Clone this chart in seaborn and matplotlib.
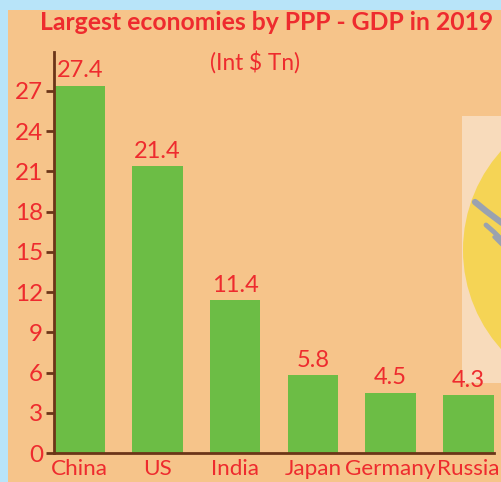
import matplotlib
matplotlib.use("Agg")
import matplotlib.pyplot as plt
from matplotlib.patches import Rectangle, Ellipse
from matplotlib.lines import Line2D
import seaborn as sns
import pandas as pd

countries = ["China", "US", "India", "Japan", "Germany", "Russia"]
gdp_ppp = [27.4, 21.4, 11.4, 5.8, 4.5, 4.3]
y_ticks = [0, 3, 6, 9, 12, 15, 18, 21, 24, 27]

RED = "#ee2b2e"
GREEN = "#6cbd45"
BROWN = "#6b3518"
PEACH = "#f6c48a"
SKY = "#b8e4f9"

sns.set_theme(style="white")
plt.rcParams["font.family"] = ["Lato", "DejaVu Sans"]

df = pd.DataFrame({"country": countries, "gdp": gdp_ppp})

fig = plt.figure(figsize=(5.02, 4.82), dpi=100, facecolor=SKY)
W, H = 502, 482

def fx(px):
    return px / W

def fy(py):
    return 1 - py / H

# peach panel
fig.patches.append(Rectangle((fx(8), 0), 1 - fx(8), fy(10), transform=fig.transFigure,
                             facecolor=PEACH, edgecolor="none", zorder=0))
# pale picture panel with a sun-like emblem on the right
frame = Rectangle((fx(462), fy(383)), fx(502) - fx(462), fy(116) - fy(383),
                  transform=fig.transFigure, facecolor="#f8dbbb",
                  edgecolor="none", zorder=0.5)
fig.patches.append(frame)
emblem = Ellipse((fx(611), fy(250)), fx(296), 296 / H, transform=fig.transFigure,
                 facecolor="#f5d455", edgecolor="none", zorder=0.6)
emblem.set_clip_path(frame)
fig.patches.append(emblem)
feathers = [
    ([475, 486, 502], [202, 211, 223], 4.5),
    ([486, 494, 502], [225, 232, 240], 3.5),
    ([494, 498, 502], [237, 241, 245], 2.5),
]
for xs, ys, lw in feathers:
    fig.lines.append(Line2D([fx(v) for v in xs], [fy(v) for v in ys],
                            transform=fig.transFigure, color="#9aa2b0",
                            lw=lw, solid_capstyle="round", zorder=0.7))

ax = fig.add_axes([fx(54), fy(453), fx(494) - fx(54), fy(52) - fy(453)])
ax.set_facecolor("none")
ax.set_zorder(5)

sns.barplot(data=df, x="country", y="gdp", color=GREEN, width=0.65,
            saturation=1, linewidth=0, ax=ax, zorder=2)

ax.set_xlim(-0.33, 5.33)
ax.set_ylim(0, 29.9)
ax.set_yticks(y_ticks)
ax.set_xlabel("")
ax.set_ylabel("")

for i, v in enumerate(gdp_ppp):
    ax.annotate(f"{v}", (i, v), xytext=(0, 3), textcoords="offset points",
                ha="center", va="bottom", color=RED, fontsize=17)

for side in ["top", "right"]:
    ax.spines[side].set_visible(False)
for side in ["left", "bottom"]:
    ax.spines[side].set_color(BROWN)
    ax.spines[side].set_linewidth(2)

ax.tick_params(axis="y", colors=BROWN, labelcolor=RED, labelsize=17.5,
               length=6, width=2, direction="out", left=True, pad=2)
ax.tick_params(axis="x", labelcolor=RED, labelsize=16.2, length=0, pad=4)

fig.text(fx(267), fy(22), "Largest economies by PPP - GDP in 2019", ha="center",
         va="center", color=RED, fontsize=17.8, fontweight="bold")
fig.text(fx(255), fy(62), "(Int $ Tn)", ha="center", va="center", color=RED,
         fontsize=16.3)

fig.savefig("out.png", dpi=100, facecolor=SKY)
